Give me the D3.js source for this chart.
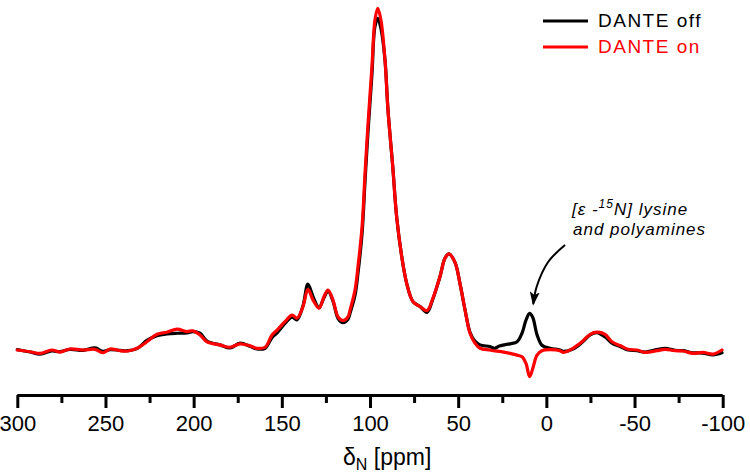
<!DOCTYPE html>
<html>
<head>
<meta charset="utf-8">
<script src="https://cdn.jsdelivr.net/npm/d3@7"></script>
<style>
  html, body { margin: 0; padding: 0; background: #fff; }
  svg { display: block; }
  text { font-family: "Liberation Sans", Arial, sans-serif; }
</style>
</head>
<body>
<svg id="chart" width="750" height="476"></svg>
<script>
// Chemical shift grid (ppm)
const ppm = [300.0,292.8,287.1,280.5,275.8,270.1,262.7,255.9,251.4,247.4,241.8,237.2,232.1,226.5,220.8,215.1,209.4,203.8,200.4,196.4,192.4,185.1,179.4,173.7,168.0,164.1,159.5,155.6,152.7,148.2,144.2,141.4,138.0,135.2,132.3,128.9,126.1,123.8,121.0,118.1,115.3,112.5,111.3,108.5,106.8,104.5,102.8,101.1,98.9,97.2,95.6,93.8,91.5,89.8,87.1,84.9,82.0,79.2,75.6,71.6,67.7,64.3,60.3,57.5,55.2,51.8,49.0,46.1,43.3,40.5,37.6,32.0,29.2,26.6,20.6,16.6,13.8,11.5,9.5,7.7,5.3,2.5,-2.1,-7.7,-9.4,-15.1,-20.2,-24.8,-28.7,-33.3,-37.2,-41.8,-46.3,-51.4,-55.9,-62.7,-67.3,-72.9,-77.5,-83.2,-88.8,-94.5,-99.6];
// DANTE on (red)
const danteOn = [0.0,-0.5,-1.0,0.0,-0.6,0.3,0.0,0.2,-0.8,0.3,-0.2,-0.3,0.5,2.4,4.6,5.2,6.1,5.4,5.6,4.4,2.4,1.5,0.8,1.8,1.2,0.5,0.8,4.4,5.8,8.3,10.2,9.3,12.7,17.7,14.6,12.2,15.6,17.5,14.6,9.7,8.6,9.7,11.7,17.5,24.4,36.1,51.7,66.3,82.8,96.5,99.9,96.5,84.8,70.2,53.6,39.0,27.3,19.5,14.1,12.7,11.5,15.2,21.5,26.8,28.1,25.6,19.5,11.7,4.9,2.0,0.5,0.0,-0.3,-0.4,-1.0,-1.5,-2.0,-4.0,-7.8,-5.4,-1.5,-0.2,0.1,-0.2,-0.7,0.5,2.4,4.6,5.2,4.6,2.4,1.3,0.2,0.0,-0.7,-0.2,0.2,-0.2,-0.3,-1.0,-0.7,-1.2,0.0];
// DANTE off (black)
const danteOff = [0.1,-0.6,-1.2,-0.3,-0.5,0.2,-0.1,0.6,-0.4,0.1,-0.1,-0.2,0.4,2.8,4.2,4.7,4.9,5.0,5.4,4.9,2.6,1.5,0.6,2.0,1.1,0.3,0.5,3.6,5.0,7.8,9.6,8.8,12.9,19.3,15.6,12.4,15.3,17.2,14.3,9.2,8.0,9.0,10.8,16.0,22.5,34.0,49.5,64.0,80.5,94.5,97.0,94.0,84.8,70.2,53.6,39.0,27.3,19.5,14.1,12.7,11.0,15.0,21.5,26.8,28.1,25.6,19.5,11.7,5.2,2.6,1.5,1.0,0.5,1.2,1.8,2.4,4.9,8.8,10.7,9.5,4.5,1.4,0.5,0.0,-0.4,0.3,2.2,4.4,5.1,3.8,2.0,1.0,0.0,-0.2,-0.6,0.1,0.5,-0.1,-0.2,-0.8,-0.9,-1.4,-0.8];

const majorTicks = [300,250,200,150,100,50,0,-50,-100];
const minorTicks = [275,225,175,125,75,25,-25,-75];
const seriesNames = ["DANTE off","DANTE on"];
const seriesColors = ["#000000","#ff0000"];
// annotation arrow path in data units (ppm, intensity)
const arrowPpm = [-10.6,-1.1,5.5,7.4];
const arrowInt = [30.7,25.8,18.5,13.5];

const svg = d3.select("#chart");
svg.append("rect").attr("width",750).attr("height",476).attr("fill","#fff");

const x = d3.scaleLinear().domain([300,-100]).range([17.3,722.7]);
const y = d3.scaleLinear().domain([0,100]).range([350,8]);

// Axis
const axisY = 395;
const gMinor = svg.append("g").attr("transform",`translate(0,${axisY})`)
  .call(d3.axisBottom(x).tickValues(minorTicks).tickSize(8).tickSizeOuter(0).tickFormat(""));
gMinor.select(".domain").remove();
gMinor.selectAll(".tick line").attr("stroke","#000").attr("stroke-width",3);

const gMajor = svg.append("g").attr("transform",`translate(0,${axisY})`)
  .call(d3.axisBottom(x).tickValues(majorTicks).tickSize(13).tickSizeOuter(0).tickPadding(7).tickFormat(d => String(d)));
gMajor.select(".domain").attr("stroke","#000").attr("stroke-width",3)
  .attr("d",`M${x(300)},0.5H${x(-100)}`);
gMajor.selectAll(".tick line").attr("stroke","#000").attr("stroke-width",3);
gMajor.selectAll(".tick text").attr("fill","#000")
  .style("font-family","'Liberation Sans', Arial, sans-serif").style("font-size","22px");

// Axis title
const title = svg.append("text").attr("x",343).attr("y",465).attr("fill","#000")
  .style("font-size","23px");
title.append("tspan").text("δ");
title.append("tspan").attr("dy",5).style("font-size","16px").text("N");
title.append("tspan").attr("dy",-5).text(" [ppm]");

// Lines
const line = d3.line()
  .x(d => x(d[0])).y(d => y(d[1]))
  .curve(d3.curveCatmullRom.alpha(0.5));
const offData = ppm.map((p,i) => [p, danteOff[i]]);
const onData = ppm.map((p,i) => [p, danteOn[i]]);
[offData, onData].forEach((data,i) => {
  svg.append("path").datum(data).attr("d",line)
    .attr("fill","none").attr("stroke",seriesColors[i]).attr("stroke-width",3.2)
    .attr("stroke-linejoin","round").attr("stroke-linecap","round");
});

// Legend
seriesNames.forEach((name,i) => {
  const ly = 21 + i*26;
  svg.append("line").attr("x1",543).attr("x2",588).attr("y1",ly).attr("y2",ly)
    .attr("stroke",seriesColors[i]).attr("stroke-width",3);
  svg.append("text").attr("x",598).attr("y",ly+6).attr("fill",seriesColors[i])
    .style("font-size","19px").style("letter-spacing","1.5px").text(name);
});

// Annotation
const defs = svg.append("defs");
defs.append("marker").attr("id","arrowhead").attr("viewBox","0 0 14 10")
  .attr("refX",12).attr("refY",5).attr("markerWidth",14).attr("markerHeight",10)
  .attr("markerUnits","userSpaceOnUse").attr("orient","auto")
  .append("path").attr("d","M0,0L14,5L0,10L3,5Z").attr("fill","#000");
const arrowLine = d3.line().x(d => x(d[0])).y(d => y(d[1])).curve(d3.curveCatmullRom.alpha(0.5));
svg.append("path").datum(arrowPpm.map((p,i)=>[p,arrowInt[i]])).attr("d",arrowLine)
  .attr("fill","none").attr("stroke","#000").attr("stroke-width",2)
  .attr("marker-end","url(#arrowhead)");

const ann1 = svg.append("text").attr("x",572).attr("y",215).attr("fill","#000")
  .style("font-size","17px").style("font-style","italic").style("letter-spacing","1px");
ann1.append("tspan").text("[ε -");
ann1.append("tspan").attr("dy",-7).style("font-size","12px").text("15");
ann1.append("tspan").attr("dy",7).text("N] lysine");
svg.append("text").attr("x",573).attr("y",235).attr("fill","#000")
  .style("font-size","17px").style("font-style","italic").style("letter-spacing","1px")
  .text("and polyamines");
</script>
</body>
</html>
